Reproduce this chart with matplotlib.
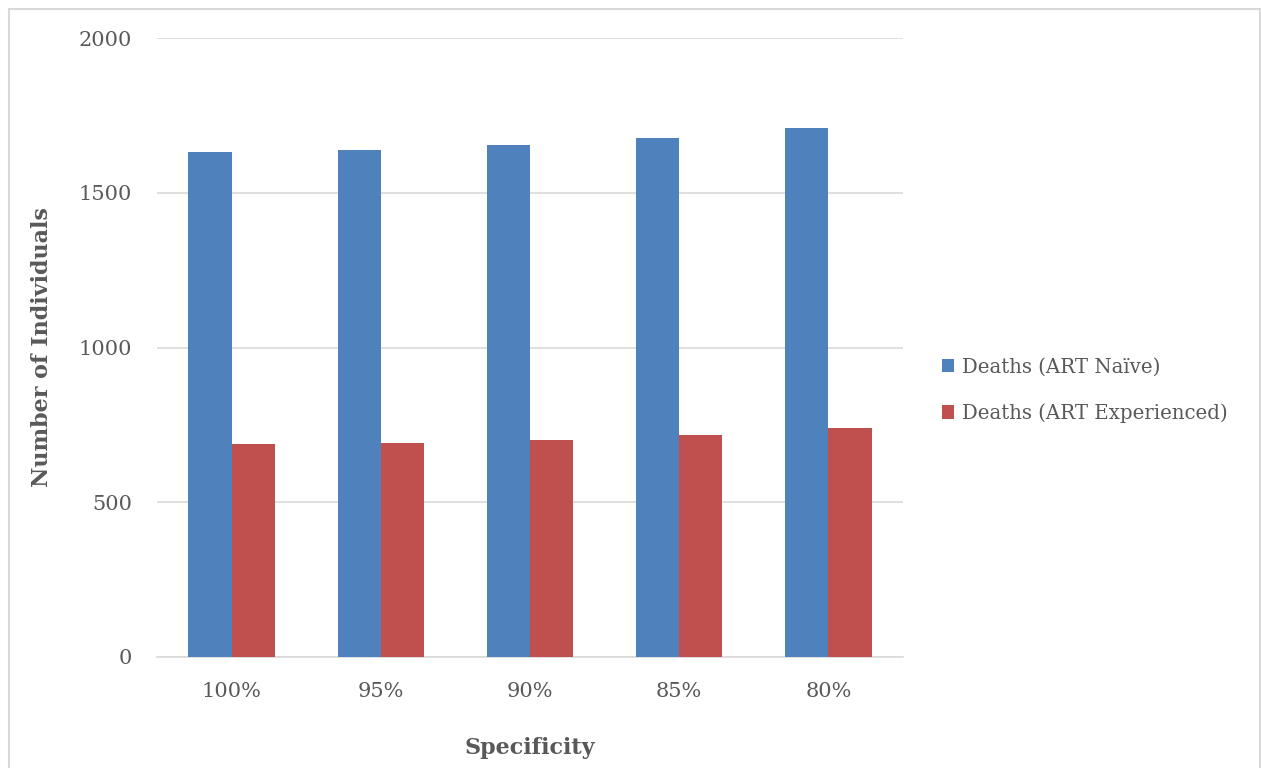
import numpy as np
import matplotlib.pyplot as plt
from matplotlib.patches import Rectangle

# Specificity scenarios and modelled deaths
specificity = ["100%", "95%", "90%", "85%", "80%"]
deaths_naive = [1633, 1638, 1654, 1676, 1708]
deaths_experienced = [687, 691, 701, 717, 740]

blue = "#4f81bd"
red = "#c0504d"
text_grey = "#595959"

plt.rcParams['font.family'] = ['DejaVu Serif']

fig = plt.figure(figsize=(12.61, 7.68), dpi=100)
ax = fig.add_axes([157 / 1261, 111 / 768, 746 / 1261, 619 / 768])

x = np.arange(len(specificity))
width = 0.29
ax.bar(x - width / 2, deaths_naive, width, color=blue, label="Deaths (ART Naïve)", zorder=3)
ax.bar(x + width / 2, deaths_experienced, width, color=red, label="Deaths (ART Experienced)", zorder=3)

ax.set_xlim(-0.5, len(specificity) - 0.5)
ax.set_ylim(0, 2000)
ax.set_yticks([0, 500, 1000, 1500, 2000])
ax.set_xticks(x)
ax.set_xticklabels(specificity)

ax.grid(axis='y', color='#d9d9d9', linewidth=1.2, zorder=0)
for side in ['top', 'right', 'left']:
    ax.spines[side].set_visible(False)
ax.spines['bottom'].set_color('#d9d9d9')
ax.spines['bottom'].set_linewidth(1.2)
ax.tick_params(axis='both', length=0, labelsize=15, labelcolor=text_grey)
ax.tick_params(axis='y', pad=18)
ax.tick_params(axis='x', pad=18)

ax.set_xlabel("Specificity", fontsize=16, fontweight='bold', color=text_grey, labelpad=26)
ax.set_ylabel("Number of Individuals", fontsize=16, fontweight='bold', color=text_grey, labelpad=18)

ax.legend(loc='center left', bbox_to_anchor=(1.028, 0.431), frameon=False, fontsize=14.2,
          labelcolor=text_grey, handlelength=0.65, handleheight=0.65, handletextpad=0.4,
          labelspacing=1.35)

# outer chart frame
fig.patches.append(Rectangle((9 / 1261, -0.05), 1251 / 1261, (759 / 768) + 0.05,
                             transform=fig.transFigure, fill=False,
                             edgecolor='#d9d9d9', linewidth=1.5))

fig.savefig("out.png", dpi=100)
